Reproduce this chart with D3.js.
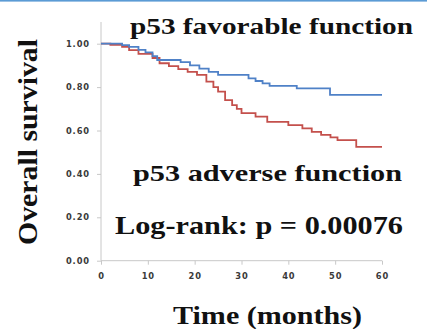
<!DOCTYPE html>
<html>
<head>
<meta charset="utf-8">
<script src="https://cdn.jsdelivr.net/npm/d3@7"></script>
<style>
  html, body { margin: 0; padding: 0; background: #fff; }
  svg { display: block; }
</style>
</head>
<body>
<script>
// ---- data ----
const xTicks = [0, 10, 20, 30, 40, 50, 60];
const yTicks = [0, 0.2, 0.4, 0.6, 0.8, 1.0];
const favorableTimes = [0, 4.5, 6, 8, 9.5, 11, 12, 17, 19, 21, 23, 25, 31.5, 33, 34.5, 36, 41.8, 48.9, 60];
const favorableSurv  = [1.0, 0.993, 0.985, 0.972, 0.96, 0.943, 0.925, 0.915, 0.9, 0.885, 0.87, 0.856, 0.84, 0.828, 0.817, 0.806, 0.794, 0.764, 0.764];
const adverseTimes = [0, 2, 4.5, 6, 8, 11, 12.5, 14.5, 16.5, 18.5, 20.5, 22.5, 24, 25, 26.5, 28, 29, 30, 33, 35.5, 40, 43, 45, 47, 49, 50.5, 54.5, 60];
const adverseSurv  = [1.0, 0.995, 0.985, 0.97, 0.953, 0.934, 0.91, 0.897, 0.883, 0.87, 0.856, 0.825, 0.80, 0.779, 0.74, 0.717, 0.70, 0.68, 0.664, 0.64, 0.625, 0.61, 0.594, 0.58, 0.568, 0.556, 0.525, 0.525];
const labels = {
  top: "p53 favorable function",
  mid: "p53 adverse function",
  stat: "Log-rank: p = 0.00076",
  x: "Time (months)",
  y: "Overall survival"
};

const W = 427, H = 329;
const svg = d3.select("body").append("svg").attr("width", W).attr("height", H);

// top border line
svg.append("rect").attr("x", 0).attr("y", 0).attr("width", W).attr("height", 1.6).attr("fill", "#5b9bd5");

const x = d3.scaleLinear().domain([0, 60]).range([101, 382]);
const y = d3.scaleLinear().domain([0, 1.1]).range([260.7, 22]);

const axisColor = "#c8c8c8";
const tickFont = "DejaVu Sans, Verdana, sans-serif";

// y axis
const yAxis = svg.append("g").attr("transform", `translate(${x(0)},0)`)
  .call(d3.axisLeft(y).tickValues(yTicks).tickFormat(d3.format(".2f")).tickSize(4).tickPadding(7));
yAxis.select(".domain").attr("stroke", axisColor).attr("d", `M0,${y(1.1)}V${y(0)}`);
yAxis.selectAll(".tick line").attr("stroke", axisColor);
yAxis.selectAll(".tick text").attr("fill", "#3a3a3a").attr("font-family", tickFont)
  .attr("font-weight", "bold").attr("font-size", 8.3).attr("letter-spacing", 0.9);

// x axis
const xAxis = svg.append("g").attr("transform", `translate(0,${y(0)})`)
  .call(d3.axisBottom(x).tickValues(xTicks).tickSize(4).tickPadding(8));
xAxis.select(".domain").attr("stroke", axisColor).attr("d", `M${x(0)},0H${x(60)}`);
xAxis.selectAll(".tick line").attr("stroke", axisColor);
xAxis.selectAll(".tick text").attr("fill", "#3a3a3a").attr("font-family", tickFont)
  .attr("font-weight", "bold").attr("font-size", 8.3).attr("letter-spacing", 0.9);

// curves
const line = d3.line().x(d => x(d[0])).y(d => y(d[1])).curve(d3.curveStepAfter);
const fav = favorableTimes.map((t, i) => [t, favorableSurv[i]]);
const adv = adverseTimes.map((t, i) => [t, adverseSurv[i]]);
svg.append("path").datum(adv).attr("d", line).attr("fill", "none")
  .attr("stroke", "#c4504c").attr("stroke-width", 1.8);
svg.append("path").datum(fav).attr("d", line).attr("fill", "none")
  .attr("stroke", "#4f81c7").attr("stroke-width", 1.8);

// big texts
const serif = "Liberation Serif, Times New Roman, serif";
function bigText(str, xx, yy, size, len) {
  return svg.append("text").attr("x", xx).attr("y", yy).text(str)
    .attr("font-family", serif).attr("font-weight", "bold").attr("font-size", size)
    .attr("fill", "#111").attr("textLength", len).attr("lengthAdjust", "spacingAndGlyphs");
}
bigText(labels.top, 130, 34, 24, 283);
bigText(labels.mid, 133, 181, 24, 269);
bigText(labels.stat, 115, 234, 25.5, 288);
bigText(labels.x, 173, 324, 26, 189);
svg.append("text")
  .attr("transform", "translate(37,245) rotate(-90)")
  .text(labels.y)
  .attr("font-family", serif).attr("font-weight", "bold").attr("font-size", 27)
  .attr("fill", "#111").attr("textLength", 206).attr("lengthAdjust", "spacingAndGlyphs");
</script>
</body>
</html>
